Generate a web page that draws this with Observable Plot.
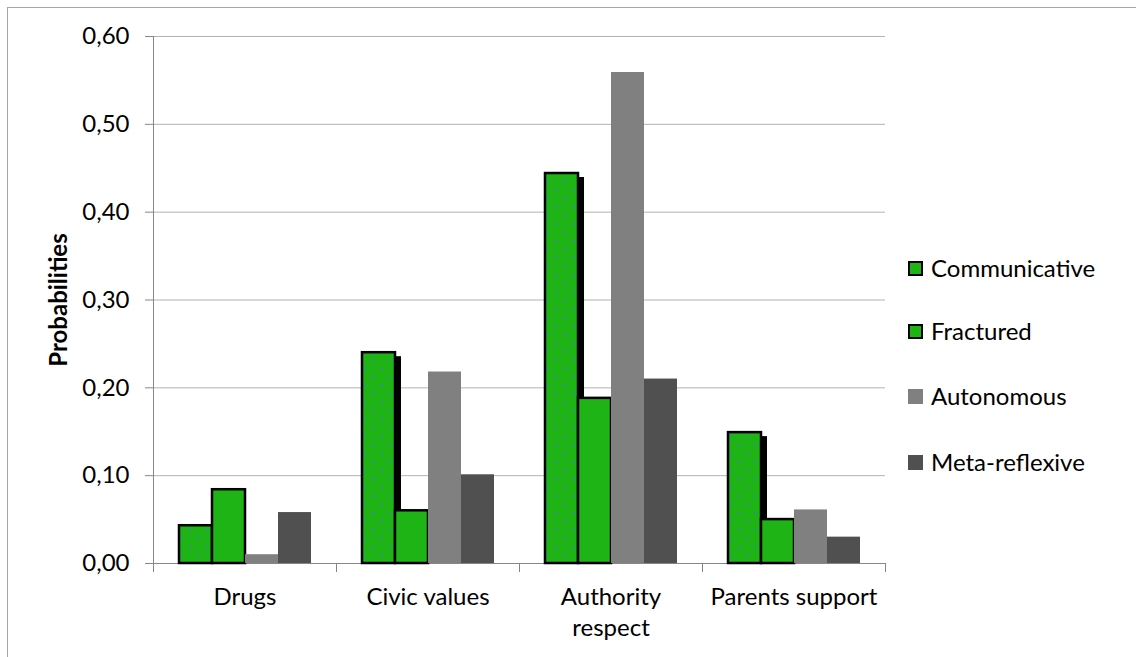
<!DOCTYPE html>
<html>
<head>
<meta charset="utf-8">
<script src="https://cdn.jsdelivr.net/npm/d3@7"></script>
<script src="https://cdn.jsdelivr.net/npm/@observablehq/plot@0.6"></script>
<style>
  html, body { margin: 0; padding: 0; background: #fff; }
  #wrap { position: relative; width: 1136px; height: 657px; overflow: hidden; font-family: Lato, "DejaVu Sans", sans-serif; }
  #border { position: absolute; left: 7px; top: 7px; width: 1200px; height: 700px; border-left: 1px solid #a6a6a6; border-top: 1px solid #a6a6a6; box-sizing: border-box; }
  #chart { position: absolute; left: 0; top: 0; }
  g[aria-label="y-axis label"] text { font-weight: bold; }
  .legend { position: absolute; left: 908px; font-size: 24px; color: #000; }
  .legend .row { position: absolute; left: 0; white-space: nowrap; height: 0; }
  .legend .sw { position: absolute; left: 0; top: -7px; width: 15px; height: 15px; box-sizing: border-box; }
  .legend .lab { position: absolute; left: 23px; top: -15px; line-height: 30px; }
</style>
</head>
<body>
<div id="wrap">
  <div id="border"></div>
  <div id="chart"></div>
  <div class="legend" id="legend"></div>
</div>
<script>
const categories = ["Drugs", "Civic values", "Authority respect", "Parents support"];
const categoryLabels = ["Drugs", "Civic values", "Authority\nrespect", "Parents support"];
const series = ["Communicative", "Fractured", "Autonomous", "Meta-reflexive"];
const communicative = [0.043, 0.240, 0.444, 0.149];
const fractured = [0.084, 0.060, 0.188, 0.050];
const autonomous = [0.010, 0.218, 0.559, 0.061];
const metaReflexive = [0.058, 0.101, 0.210, 0.030];
const yTicks = [0, 0.1, 0.2, 0.3, 0.4, 0.5, 0.6];
const seriesColors = ["url(#dots)", "#1fb416", "#808080", "#505050"];
const legendColors = ["#1fb416", "#1fb416", "#808080", "#505050"];

const valuesBySeries = [communicative, fractured, autonomous, metaReflexive];
const data = [];
categories.forEach((c, i) => {
  series.forEach((s, j) => data.push({category: c, series: s, value: valuesBySeries[j][i]}));
});
const commData = data.filter(d => d.series === "Communicative");
const fracData = data.filter(d => d.series === "Fractured");
const otherData = data.filter(d => d.series === "Autonomous" || d.series === "Meta-reflexive");

const plot = Plot.plot({
  width: 1136,
  height: 657,
  marginLeft: 153,
  marginRight: 251,
  marginTop: 36,
  marginBottom: 94,
  style: {fontFamily: "Lato, 'DejaVu Sans', sans-serif", fontSize: "24px", color: "#000", background: "transparent"},
  fx: {domain: categories, padding: 0, axis: null},
  x: {domain: series, paddingInner: 0, paddingOuter: 0.73, axis: null},
  y: {domain: [0, 0.6], axis: null},
  color: {domain: series, range: seriesColors},
  marks: [
    Plot.ruleY(yTicks.slice(1), {y: d => d, stroke: "#b3b3b3", strokeWidth: 1}),
    Plot.frame({anchor: "left", facetAnchor: "left", stroke: "#868686"}),
    Plot.axisY({
      ticks: yTicks,
      tickFormat: d => d.toFixed(2).replace(".", ","),
      tickSize: 8,
      tickPadding: 16,
      stroke: "#868686",
      fill: "#000",
      label: "Probabilities",
      labelAnchor: "center",
      labelOffset: 104,
      labelArrow: "none"
    }),
    Plot.frame({anchor: "left", insetTop: 527, insetBottom: -8, stroke: "#868686"}),
    Plot.frame({anchor: "right", facetAnchor: "right", insetTop: 527, insetBottom: -8, stroke: "#868686"}),
    Plot.ruleY([0], {stroke: "#868686"}),
    Plot.barY(commData, {fx: "category", x: "series", y: "value", fill: "#000", dx: 6, dy: 4, insetBottom: 4}),
    Plot.barY(commData, {fx: "category", x: "series", y: "value", fill: "url(#dots)", stroke: "#000", strokeWidth: 2.5}),
    Plot.barY(fracData, {fx: "category", x: "series", y: "value", fill: "#1fb416", stroke: "#000", strokeWidth: 2.5}),
    Plot.barY(otherData, {fx: "category", x: "series", y: "value", fill: "series"}),
    Plot.text(categories, {
      fx: d => d,
      text: d => categoryLabels[categories.indexOf(d)],
      frameAnchor: "bottom",
      lineAnchor: "top",
      dy: 19,
      lineHeight: 1.3,
      fill: "#000"
    })
  ]
});

// pattern for the dotted fill
const ns = "http://www.w3.org/2000/svg";
const defs = document.createElementNS(ns, "defs");
defs.innerHTML = `<pattern id="dots" patternUnits="userSpaceOnUse" width="17" height="17">
  <rect width="17" height="17" fill="#1fb416"></rect>
  <rect x="2" y="2" width="1.8" height="1.8" fill="#4a78d0"></rect>
  <rect x="10.5" y="10.5" width="1.8" height="1.8" fill="#4a78d0"></rect>
</pattern>`;
plot.insertBefore(defs, plot.firstChild);
document.getElementById("chart").appendChild(plot);

// legend
const legend = document.getElementById("legend");
const rowsY = [268, 331, 396, 462];
series.forEach((s, i) => {
  const row = document.createElement("div");
  row.className = "row";
  row.style.top = rowsY[i] + "px";
  const sw = document.createElement("div");
  sw.className = "sw";
  sw.style.background = legendColors[i];
  if (i < 2) sw.style.border = "2px solid #000";
  const lab = document.createElement("div");
  lab.className = "lab";
  lab.textContent = s;
  row.appendChild(sw);
  row.appendChild(lab);
  legend.appendChild(row);
});
</script>
</body>
</html>
